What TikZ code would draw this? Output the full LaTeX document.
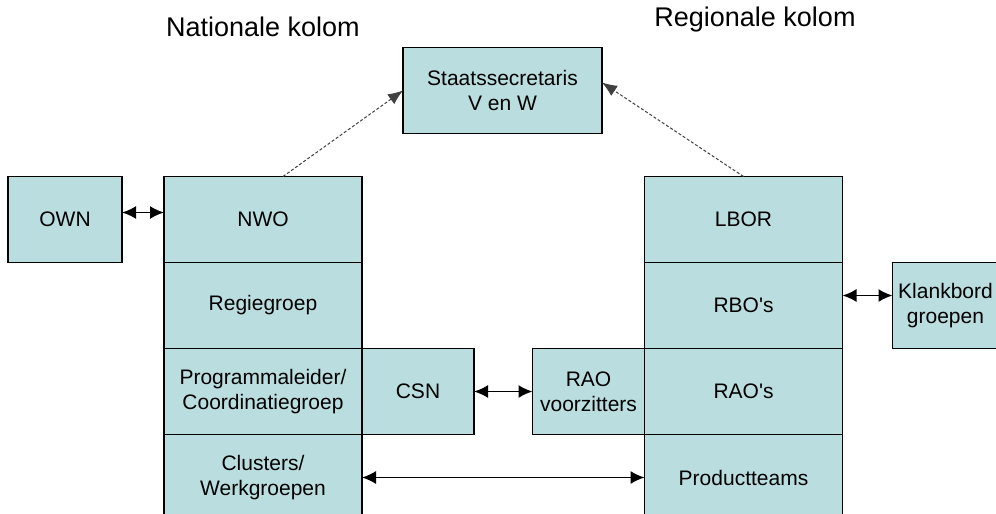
\documentclass[tikz,border=0pt]{standalone}
\usepackage{fontspec}
\setmainfont{Liberation Sans}
\usetikzlibrary{arrows.meta,positioning}
\definecolor{boxfill}{RGB}{186,222,224}

\begin{document}
\begin{tikzpicture}[
    x=1pt, y=-1pt,
    node distance=0pt,
    block/.style={draw, fill=boxfill, rectangle, line width=1.3pt, outer sep=0pt, minimum width=198pt, minimum height=86pt, align=center, font=\fontsize{21}{25}\selectfont},
    title/.style={font=\fontsize{27}{32}\selectfont},
    link/.style={{Latex[length=14pt,width=13pt]}-{Latex[length=14pt,width=13pt]}, line width=1.8pt},
    report/.style={-{Latex[length=15pt,width=12pt]}, line width=1pt, black!75, densely dashed},
]
    \useasboundingbox (0,0) rectangle (996,514);

    % Titles
    \node [title] (nat) at (263,27) {Nationale kolom};
    \node [title] (reg) at (755,20) {Regionale kolom};

    % Top
    \node [block, minimum width=199pt] (staats) at (502.5,90.5) {Staatssecretaris\\V en W};

    % Nationale kolom
    \node [block] (nwo) at (263,219.5) {NWO};
    \node [block, below=of nwo] (regie) {Regiegroep};
    \node [block, below=of regie] (prog) {Programmaleider/\\Coordinatiegroep};
    \node [block, below=of prog] (clus) {Clusters/\\Werkgroepen};
    \node [block, minimum width=114pt, left=42pt of nwo] (own) {OWN};
    \node [block, minimum width=112pt, right=of prog] (csn) {CSN};

    % Regionale kolom
    \node [block] (lbor) at (743.5,219.5) {LBOR};
    \node [block, below=of lbor] (rbo) {RBO\textquotesingle s};
    \node [block, below=of rbo] (rao) {RAO\textquotesingle s};
    \node [block, below=of rao] (prod) {Productteams};
    \node [block, minimum width=112pt, left=of rao] (raov) {RAO\\voorzitters};
    \node [block, minimum width=106pt, right=50pt of rbo] (klank) {Klankbord\\groepen};

    % Arrows
    \draw [report] ([xshift=20pt]nwo.north) -- (staats.west);
    \draw [report] (lbor.north) -- ([yshift=8pt]staats.east);
    \draw [link] ([yshift=7pt]own.east) -- ([yshift=7pt]nwo.west);
    \draw [link] (csn) -- (raov);
    \draw [link, line width=1.4pt] (clus) -- (prod);
    \draw [link] ([yshift=10pt]rbo.east) -- ([yshift=10pt]klank.west);

\end{tikzpicture}
\end{document}
